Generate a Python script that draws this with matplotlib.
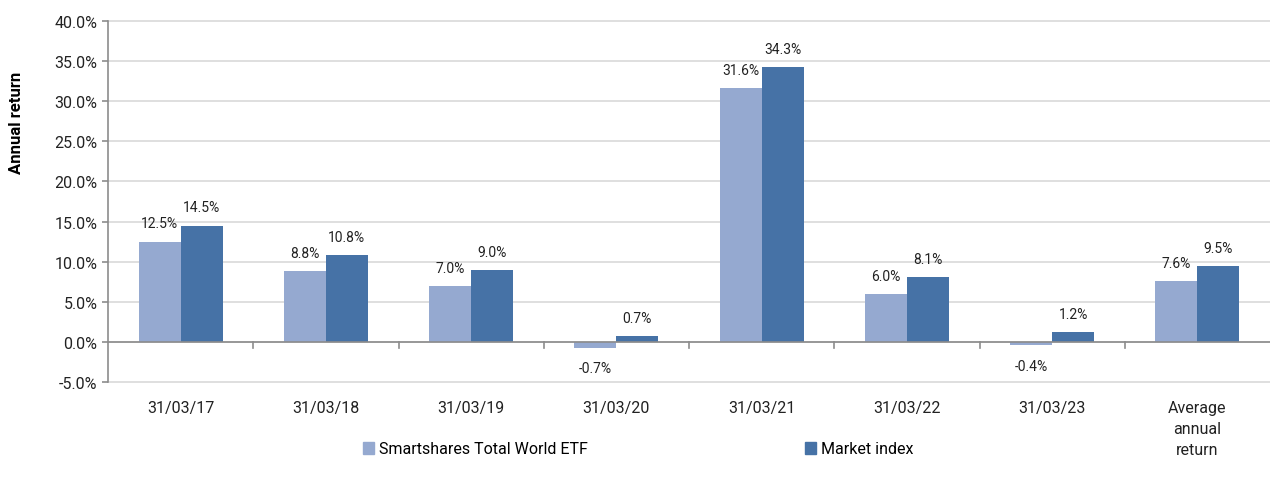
import matplotlib.pyplot as plt
import numpy as np
from matplotlib.patches import Patch

plt.rcParams["font.family"] = ["Roboto", "DejaVu Sans"]

# data
categories = ["31/03/17", "31/03/18", "31/03/19", "31/03/20", "31/03/21",
              "31/03/22", "31/03/23", "Average\nannual\nreturn"]
etf = [12.5, 8.8, 7.0, -0.7, 31.6, 6.0, -0.4, 7.6]
market = [14.5, 10.8, 9.0, 0.7, 34.3, 8.1, 1.2, 9.5]
series_names = ["Smartshares Total World ETF", "Market index"]

light = "#95a9d0"
dark = "#4672a6"
grid_col = "#d9d9d9"
axis_col = "#8c8c8c"

fig = plt.figure(figsize=(12.7, 4.85), dpi=100)
ax = fig.add_axes([108 / 1270, 1 - 383 / 485, 1162 / 1270, 361 / 485])

x = np.arange(len(categories))
w = 0.29
b1 = ax.bar(x - w / 2, etf, w, color=light, zorder=3)
b2 = ax.bar(x + w / 2, market, w, color=dark, zorder=3)

for bars, vals in ((b1, etf), (b2, market)):
    for r, v in zip(bars, vals):
        cx = r.get_x() + r.get_width() / 2
        if v >= 0:
            ax.annotate(f"{v:.1f}%", (cx, v), xytext=(0, 8), textcoords="offset points",
                        ha="center", va="bottom", fontsize=10, color="#222222")
        else:
            ax.annotate(f"{v:.1f}%", (cx, v), xytext=(0, -10), textcoords="offset points",
                        ha="center", va="top", fontsize=10, color="#222222")

ax.set_xlim(-0.5, len(categories) - 0.5)
ax.set_ylim(-5, 40)
yt = np.arange(-5, 41, 5)
ax.set_yticks(yt)
ax.set_yticklabels([f"{v:.1f}%" for v in yt], fontsize=11.5, color="#222222")
ax.yaxis.grid(True, color=grid_col, linewidth=1.2, zorder=0)
for gl in ax.get_ygridlines():
    gl.set_clip_on(False)

# x axis drawn at zero, ticks between categories
ax.axhline(0, color=axis_col, linewidth=1.2, zorder=4)
ax.set_xticks(x)
ax.set_xticklabels(categories, fontsize=11.5, color="#222222", linespacing=1.5, va="top")
ax.tick_params(axis="x", length=0, pad=13)
ax.tick_params(axis="y", length=4, color=axis_col, width=1.2)
for b in np.arange(0.5, len(categories) - 1, 1):
    ax.plot([b, b], [0, -0.8], color=axis_col, linewidth=1.2, zorder=4, clip_on=False)

for s in ["top", "right", "bottom"]:
    ax.spines[s].set_visible(False)
ax.spines["left"].set_color(axis_col)
ax.spines["left"].set_linewidth(1.2)

ax.set_ylabel("Annual return", fontsize=12, fontweight="bold")
ax.yaxis.set_label_coords(-0.0725, 0.72)

handles = [Patch(color=light), Patch(color=dark)]
fig.legend(handles, series_names, loc="center", bbox_to_anchor=(638 / 1270, 1 - 450 / 485),
           ncol=2, frameon=False, fontsize=11.5, handlelength=0.7, handleheight=0.7,
           handletextpad=0.3, columnspacing=13.6)

fig.savefig("out.png", dpi=100)
